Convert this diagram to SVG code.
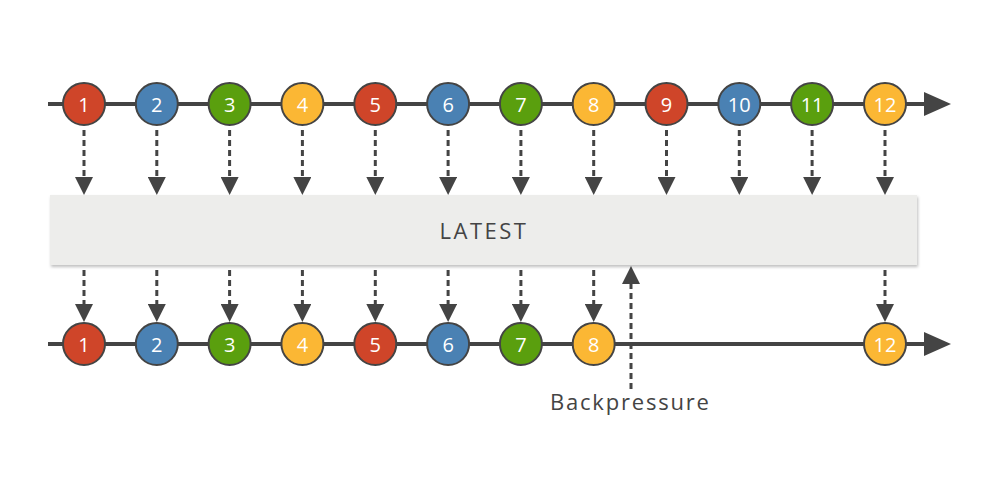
<svg xmlns="http://www.w3.org/2000/svg" width="1000" height="500" viewBox="0 0 1000 500">
<defs>
<filter id="sh" x="-5%" y="-20%" width="110%" height="150%">
<feDropShadow dx="1" dy="2" stdDeviation="1.5" flood-color="#000" flood-opacity="0.25"/>
</filter>
<marker id="ah" viewBox="0 0 18 18" refX="0" refY="9" markerWidth="18" markerHeight="18" markerUnits="userSpaceOnUse" orient="auto">
<path d="M0,0 L18,9 L0,18 Z" fill="#444"/>
</marker>
</defs>
<style>
.tl{stroke:#444;stroke-width:4;fill:none}
.dash{stroke:#444;stroke-width:3;stroke-dasharray:6 4;fill:none}
.ball{stroke:#444;stroke-width:2}
.r{fill:#cf4529}.b{fill:#4a81b3}.g{fill:#5a9f0e}.o{fill:#fbb734}
.n{font-family:"Open Sans","DejaVu Sans",sans-serif;font-size:20px;fill:#fff;text-anchor:middle}
.lbl{font-family:"Open Sans","DejaVu Sans",sans-serif;font-size:22px;fill:#444}
</style>
<rect width="1000" height="500" fill="#fff"/>
<g id="timelines">
<line class="tl" x1="48" y1="104" x2="926" y2="104"/>
<polygon points="924,92 951,104 924,116" fill="#444"/>
<line class="tl" x1="48" y1="344" x2="926" y2="344"/>
<polygon points="924,332 951,344 924,356" fill="#444"/>
</g>
<g id="connectors">
<g id="in-arrows">
<line class="dash" x1="84" y1="130" x2="84" y2="177" marker-end="url(#ah)"/>
<line class="dash" x1="156.8" y1="130" x2="156.8" y2="177" marker-end="url(#ah)"/>
<line class="dash" x1="229.6" y1="130" x2="229.6" y2="177" marker-end="url(#ah)"/>
<line class="dash" x1="302.4" y1="130" x2="302.4" y2="177" marker-end="url(#ah)"/>
<line class="dash" x1="375.3" y1="130" x2="375.3" y2="177" marker-end="url(#ah)"/>
<line class="dash" x1="448.1" y1="130" x2="448.1" y2="177" marker-end="url(#ah)"/>
<line class="dash" x1="520.9" y1="130" x2="520.9" y2="177" marker-end="url(#ah)"/>
<line class="dash" x1="593.7" y1="130" x2="593.7" y2="177" marker-end="url(#ah)"/>
<line class="dash" x1="666.5" y1="130" x2="666.5" y2="177" marker-end="url(#ah)"/>
<line class="dash" x1="739.3" y1="130" x2="739.3" y2="177" marker-end="url(#ah)"/>
<line class="dash" x1="812.1" y1="130" x2="812.1" y2="177" marker-end="url(#ah)"/>
<line class="dash" x1="885" y1="130" x2="885" y2="177" marker-end="url(#ah)"/>
</g>
<g id="out-arrows">
<line class="dash" x1="84" y1="270" x2="84" y2="304" marker-end="url(#ah)"/>
<line class="dash" x1="156.8" y1="270" x2="156.8" y2="304" marker-end="url(#ah)"/>
<line class="dash" x1="229.6" y1="270" x2="229.6" y2="304" marker-end="url(#ah)"/>
<line class="dash" x1="302.4" y1="270" x2="302.4" y2="304" marker-end="url(#ah)"/>
<line class="dash" x1="375.3" y1="270" x2="375.3" y2="304" marker-end="url(#ah)"/>
<line class="dash" x1="448.1" y1="270" x2="448.1" y2="304" marker-end="url(#ah)"/>
<line class="dash" x1="520.9" y1="270" x2="520.9" y2="304" marker-end="url(#ah)"/>
<line class="dash" x1="593.7" y1="270" x2="593.7" y2="304" marker-end="url(#ah)"/>
<line class="dash" x1="885" y1="270" x2="885" y2="304" marker-end="url(#ah)"/>
</g>
<line id="backpressure-arrow" class="dash" x1="631" y1="389" x2="631" y2="284" marker-end="url(#ah)"/>
</g>
<g id="latest" filter="url(#sh)">
<rect x="50" y="195" width="867" height="70" fill="#ededeb"/>
</g>
<text x="484" y="239" class="lbl" text-anchor="middle" letter-spacing="2.5">LATEST</text>
<g id="top-items">
<g id="t1"><circle class="ball r" cx="84" cy="104" r="21"/><text class="n" x="84" y="111.5">1</text></g>
<g id="t2"><circle class="ball b" cx="156.8" cy="104" r="21"/><text class="n" x="156.8" y="111.5">2</text></g>
<g id="t3"><circle class="ball g" cx="229.6" cy="104" r="21"/><text class="n" x="229.6" y="111.5">3</text></g>
<g id="t4"><circle class="ball o" cx="302.4" cy="104" r="21"/><text class="n" x="302.4" y="111.5">4</text></g>
<g id="t5"><circle class="ball r" cx="375.3" cy="104" r="21"/><text class="n" x="375.3" y="111.5">5</text></g>
<g id="t6"><circle class="ball b" cx="448.1" cy="104" r="21"/><text class="n" x="448.1" y="111.5">6</text></g>
<g id="t7"><circle class="ball g" cx="520.9" cy="104" r="21"/><text class="n" x="520.9" y="111.5">7</text></g>
<g id="t8"><circle class="ball o" cx="593.7" cy="104" r="21"/><text class="n" x="593.7" y="111.5">8</text></g>
<g id="t9"><circle class="ball r" cx="666.5" cy="104" r="21"/><text class="n" x="666.5" y="111.5">9</text></g>
<g id="t10"><circle class="ball b" cx="739.3" cy="104" r="21"/><text class="n" x="739.3" y="111.5">10</text></g>
<g id="t11"><circle class="ball g" cx="812.1" cy="104" r="21"/><text class="n" x="812.1" y="111.5">11</text></g>
<g id="t12"><circle class="ball o" cx="885" cy="104" r="21"/><text class="n" x="885" y="111.5">12</text></g>
</g>
<g id="bottom-items">
<g id="b1"><circle class="ball r" cx="84" cy="344" r="21"/><text class="n" x="84" y="351.5">1</text></g>
<g id="b2"><circle class="ball b" cx="156.8" cy="344" r="21"/><text class="n" x="156.8" y="351.5">2</text></g>
<g id="b3"><circle class="ball g" cx="229.6" cy="344" r="21"/><text class="n" x="229.6" y="351.5">3</text></g>
<g id="b4"><circle class="ball o" cx="302.4" cy="344" r="21"/><text class="n" x="302.4" y="351.5">4</text></g>
<g id="b5"><circle class="ball r" cx="375.3" cy="344" r="21"/><text class="n" x="375.3" y="351.5">5</text></g>
<g id="b6"><circle class="ball b" cx="448.1" cy="344" r="21"/><text class="n" x="448.1" y="351.5">6</text></g>
<g id="b7"><circle class="ball g" cx="520.9" cy="344" r="21"/><text class="n" x="520.9" y="351.5">7</text></g>
<g id="b8"><circle class="ball o" cx="593.7" cy="344" r="21"/><text class="n" x="593.7" y="351.5">8</text></g>
<g id="b12"><circle class="ball o" cx="885" cy="344" r="21"/><text class="n" x="885" y="351.5">12</text></g>
</g>
<g id="backpressure-label">
<text class="lbl" x="550" y="410" letter-spacing="1.8">Backpressure</text>
</g>
</svg>
